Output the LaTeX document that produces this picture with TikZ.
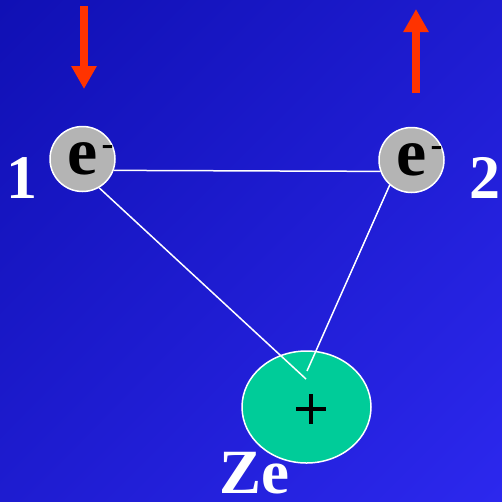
\documentclass[tikz,border=0pt]{standalone}
\usepackage{fontspec}
\setmainfont{Liberation Serif}
\newfontfamily\plusfont[FakeBold=1.2]{Liberation Serif}
\usetikzlibrary{shapes.geometric,arrows.meta,shadings}
\definecolor{bgA}{RGB}{16,16,180}
\definecolor{bgM}{RGB}{30,28,208}
\definecolor{bgB}{RGB}{44,40,238}
\definecolor{egray}{RGB}{180,180,180}
\definecolor{ngreen}{RGB}{0,204,153}
\definecolor{spinred}{RGB}{255,51,0}
\tikzset{
  electron/.style={circle, minimum size=65pt, inner sep=0pt, fill=egray, draw=white, line width=1.5pt,
    font=\fontsize{68pt}{68pt}\selectfont\bfseries, text=black},
  nucleus/.style={ellipse, minimum width=129pt, minimum height=112pt, inner sep=0pt, fill=ngreen, draw=white, line width=1.5pt},
  biglabel/.style={font=\fontsize{62pt}{62pt}\selectfont\bfseries, text=white, inner sep=0pt},
  bond/.style={draw=white, line width=1.5pt},
  spin/.style={draw=spinred, line width=8pt, -{Triangle[width=24pt,length=23pt]}}
}
\newcommand{\eminus}{e\rlap{\smash{\hspace{4pt}\raisebox{19pt}{\fontsize{36pt}{36pt}\selectfont\bfseries -}}}}
\begin{document}
\begin{tikzpicture}[x=1pt,y=-1pt]
\useasboundingbox (0,0) rectangle (502,501);
\shade[upper left=bgA, lower right=bgB, upper right=bgM, lower left=bgM] (0,0) rectangle (502,501);

% nucleus
\node[nucleus] (nuc) at (306.5,407) {};
\node[font=\fontsize{62pt}{62pt}\plusfont, text=black, inner sep=0pt] (plus) at (311,412) {+};

% electrons
\node[electron] (e1) at (82.5,159) {\eminus};
\node[electron] (e2) at (411.5,160) {\eminus};

% labels
\node[biglabel] (l1) at (22,178) {1};
\node[biglabel] (l2) at (485,178) {2};
\node[font=\fontsize{63pt}{63pt}\selectfont\bfseries, text=white, inner sep=0pt] (ze) at (254.5,473) {Ze};

% connectors
\coordinate (n1) at (306,379);
\coordinate (n2) at (307,371);
\draw[bond] (e1.-20) -- (e2.200);
\draw[bond] (e1.-60) -- (n1);
\draw[bond] (e2.229) -- (n2);

% spins
\coordinate (s1a) at (84,6);
\coordinate (s1b) at (84,89);
\coordinate (s2a) at (416,93);
\coordinate (s2b) at (416,9);
\draw[spin] (s1a) -- (s1b);
\draw[spin] (s2a) -- (s2b);
\end{tikzpicture}
\end{document}
